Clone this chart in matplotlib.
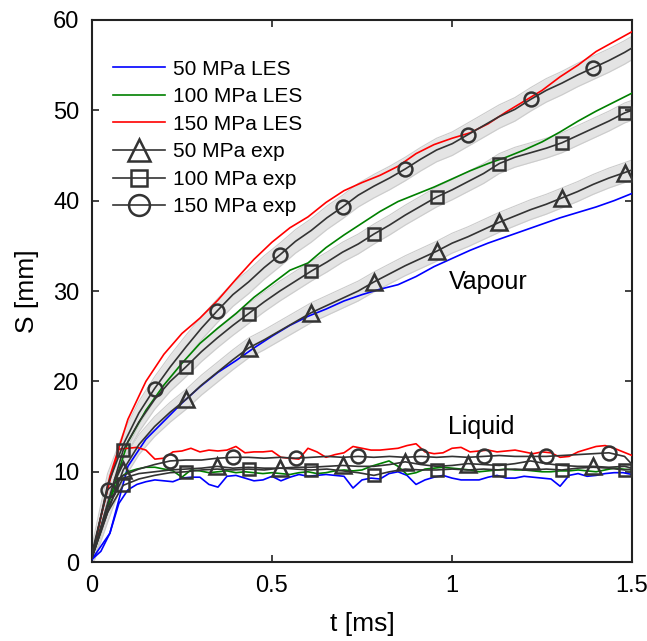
import numpy as np
import matplotlib
matplotlib.use("Agg")
import matplotlib.pyplot as plt

plt.rcParams["font.family"] = ["Liberation Sans", "DejaVu Sans"]

# LES time grid (ms)
t_les = np.arange(0, 61) * 0.025
# vapour penetration, LES, sampled every 0.05 ms
t_les_v = np.arange(0, 31) * 0.05

vap_les_50 = [0.3, 3.2, 10.6, 13.6, 15.6, 17.6, 19.4, 21.0, 22.3, 23.7, 25.0, 26.2, 27.2, 28.0,
              28.9, 29.6, 30.2, 30.7, 31.6, 32.7, 33.6, 34.5, 35.3, 36.0, 36.7, 37.4, 38.1,
              38.7, 39.3, 40.0, 40.8]
vap_les_100 = [0.5, 7.0, 13.3, 16.8, 19.6, 22.0, 24.2, 25.9, 27.5, 29.3, 30.8, 32.3, 33.1, 34.8,
               36.2, 37.5, 38.8, 39.9, 40.7, 41.5, 42.4, 43.3, 44.1, 44.8, 45.6, 46.5, 47.6,
               48.8, 49.9, 50.9, 51.9]
vap_les_150 = [0.5, 9.5, 15.8, 20.0, 23.0, 25.3, 27.0, 29.0, 31.3, 33.5, 35.4, 37.0, 38.2, 39.8,
               41.1, 42.0, 42.8, 43.8, 45.2, 46.2, 46.9, 47.5, 48.5, 49.8, 51.0, 52.2, 53.7,
               55.0, 56.5, 57.6, 58.7]

liq_les_50 = [0.3, 1.2, 3.2, 6.5, 8.0, 8.6, 8.9, 9.1, 9.0, 8.9, 9.3, 9.4, 9.4, 8.6, 8.3, 9.5,
              9.6, 9.3, 9.0, 9.1, 9.5, 9.0, 9.4, 9.7, 9.5, 9.6, 9.7, 9.6, 9.5, 8.2, 9.1, 9.3,
              9.2, 9.8, 10.0, 9.6, 8.6, 9.1, 9.4, 9.6, 9.3, 9.1, 9.1, 9.1, 9.4, 9.6, 9.3, 9.3,
              9.5, 9.4, 9.3, 9.2, 8.4, 9.6, 9.8, 9.5, 9.6, 9.8, 9.9, 9.9, 9.7]
liq_les_100 = [0.5, 3.5, 7.0, 9.2, 10.0, 10.3, 10.5, 10.5, 10.3, 10.1, 9.4, 10.2, 10.1, 9.9,
               10.0, 10.1, 9.9, 10.0, 9.9, 9.8, 9.9, 9.8, 9.7, 9.9, 10.0, 9.8, 9.9, 10.1,
               10.2, 10.1, 10.2, 10.6, 10.9, 11.2, 10.6, 9.7, 9.9, 10.3, 10.4, 10.5, 10.4,
               10.3, 10.2, 10.0, 10.1, 10.2, 10.3, 10.2, 10.2, 10.1, 10.0, 10.0, 10.1, 10.1,
               10.2, 10.1, 10.0, 10.2, 10.4, 10.3, 10.2]
liq_les_150 = [0.5, 5.0, 9.0, 12.5, 12.6, 12.7, 12.4, 11.4, 11.5, 12.2, 12.3, 12.6, 12.2, 12.4,
               12.3, 12.4, 12.8, 12.1, 12.2, 12.2, 12.3, 11.6, 11.5, 11.4, 12.6, 12.2, 11.6,
               11.9, 12.1, 12.8, 12.6, 12.4, 12.4, 12.5, 12.6, 12.9, 13.1, 12.2, 12.0, 12.1,
               12.6, 12.7, 12.2, 12.3, 12.4, 12.2, 12.3, 12.4, 12.2, 12.0, 12.2, 12.1, 11.6,
               11.7, 12.2, 12.5, 12.8, 12.9, 12.6, 12.2, 11.8]

# experimental time grid (ms)
t_exp = np.append(np.arange(0, 35) * 0.0435, 1.5)

vap_exp_50 = [0.5, 5.5, 10.2, 13.0, 15.0, 16.6, 18.0, 19.6, 21.0, 22.4, 23.7, 24.6, 25.6, 26.6,
              27.6, 28.4, 29.2, 30.0, 31.0, 31.9, 32.8, 33.6, 34.4, 35.3, 36.0, 36.8, 37.6,
              38.3, 39.0, 39.6, 40.3, 41.0, 41.8, 42.5, 43.1, 43.4]
vap_exp_100 = [0.5, 6.5, 12.4, 15.5, 18.0, 20.0, 21.6, 23.3, 24.8, 26.2, 27.5, 28.8, 30.0, 31.1,
               32.2, 33.2, 34.3, 35.2, 36.3, 37.3, 38.4, 39.4, 40.4, 41.2, 42.1, 43.0, 44.1,
               44.8, 45.3, 45.8, 46.4, 47.2, 48.0, 48.8, 49.7, 50.0]
vap_exp_150 = [0.5, 8.5, 13.0, 16.5, 19.2, 21.6, 23.8, 25.9, 27.8, 29.6, 31.0, 32.6, 34.0, 35.5,
               36.7, 38.1, 39.3, 40.6, 41.6, 42.5, 43.5, 44.6, 45.6, 46.3, 47.3, 48.3, 49.3,
               50.1, 51.2, 52.2, 53.0, 53.9, 54.7, 55.5, 56.4, 56.9]
vap_exp_spread = {50: 1.1, 100: 1.1, 150: 1.3}

liq_exp_50 = [0.5, 6.0, 9.3, 9.8, 10.0, 10.2, 10.3, 10.4, 10.6, 10.4, 10.5, 10.4, 10.4, 10.5,
              10.5, 10.6, 10.7, 10.6, 10.6, 10.8, 11.1, 10.8, 10.6, 10.7, 10.9, 10.8, 10.7,
              10.9, 11.2, 10.9, 10.7, 10.6, 10.6, 10.5, 10.6, 10.4]
liq_exp_100 = [0.5, 5.5, 8.5, 9.2, 9.6, 9.9, 10.0, 10.2, 10.3, 10.2, 10.3, 10.2, 10.4, 10.3,
               10.2, 10.3, 10.1, 9.9, 9.6, 10.0, 10.3, 10.2, 10.2, 10.3, 10.2, 10.3, 10.2,
               10.3, 10.2, 10.3, 10.2, 10.4, 10.5, 10.4, 10.2, 10.3]
liq_exp_150 = [1.0, 8.0, 9.6, 10.3, 10.8, 11.2, 11.3, 11.3, 11.5, 11.6, 11.6, 11.5, 11.6, 11.5,
               11.6, 11.7, 11.6, 11.7, 11.6, 11.7, 11.6, 11.7, 11.6, 11.7, 11.6, 11.7, 11.8,
               11.7, 11.7, 11.7, 11.8, 11.9, 12.0, 12.1, 11.7, 10.8]

les_colors = {50: "#0000ff", 100: "#008000", 150: "#ff0000"}
exp_markers = {50: "^", 100: "s", 150: "o"}
exp_col = "#333333"

fig = plt.figure(figsize=(6.47, 6.41), dpi=100)
ax = fig.add_axes([0.142, 0.123, 0.835, 0.846])

# uncertainty bands of the experimental vapour
for p, s in zip([50, 100, 150], [vap_exp_50, vap_exp_100, vap_exp_150]):
    s = np.array(s)
    d = vap_exp_spread[p]
    ax.fill_between(t_exp, s - d, s + d, color="#e4e4e4", lw=0, zorder=1)
    ax.plot(t_exp, s - d, color="#cccccc", lw=0.8, zorder=1)
    ax.plot(t_exp, s + d, color="#cccccc", lw=0.8, zorder=1)

# LES lines
les_v = {50: vap_les_50, 100: vap_les_100, 150: vap_les_150}
les_l = {50: liq_les_50, 100: liq_les_100, 150: liq_les_150}
for p in [50, 100, 150]:
    ax.plot(t_les_v, les_v[p], color=les_colors[p], lw=1.2, zorder=3,
            label="{} MPa LES".format(p))
    ax.plot(t_les, les_l[p], color=les_colors[p], lw=1.2, zorder=3)

# experiments
exp_v = {50: vap_exp_50, 100: vap_exp_100, 150: vap_exp_150}
exp_l = {50: liq_exp_50, 100: liq_exp_100, 150: liq_exp_150}
mark_v = {50: (2, 4), 100: (2, 4), 150: (4, 4)}
mark_l = {50: (8, 4), 100: (2, 4), 150: (1, 4)}
msize = {50: 11, 100: 8.5, 150: 10}
for p in [50, 100, 150]:
    ax.plot(t_exp, exp_v[p], color=exp_col, lw=1.2, marker=exp_markers[p], ms=msize[p],
            mfc="none", mew=1.8, markevery=mark_v[p], zorder=4,
            label="{} MPa exp".format(p))
    ax.plot(t_exp, exp_l[p], color=exp_col, lw=1.2, marker=exp_markers[p], ms=msize[p],
            mfc="none", mew=1.8, markevery=mark_l[p], zorder=4)

ax.text(1.1, 31, "Vapour", fontsize=18, ha="center", va="center")
ax.text(1.08, 14.9, "Liquid", fontsize=18, ha="center", va="center")

ax.set_xlim(0, 1.5)
ax.set_ylim(0, 60)
ax.set_xticks([0, 0.5, 1, 1.5])
ax.set_xticklabels(["0", "0.5", "1", "1.5"])
ax.set_yticks(range(0, 61, 10))
ax.tick_params(direction="in", top=True, right=True, length=5, width=1.2,
               labelsize=17, pad=9, colors="#222222", labelcolor="black")
for sp in ax.spines.values():
    sp.set_linewidth(1.5)
    sp.set_color("#222222")
ax.set_xlabel("t [ms]", fontsize=19, labelpad=11)
ax.set_ylabel("S [mm]", fontsize=19, labelpad=10)

leg = ax.legend(loc="upper left", frameon=False, fontsize=15, handlelength=2.5,
                handletextpad=0.4, labelspacing=0.41, bbox_to_anchor=(0.0, 0.965),
                borderaxespad=0.6)
for h, p in zip(leg.legend_handles[3:], [50, 100, 150]):
    h.set_markersize({50: 16, 100: 11, 150: 15}[p])

fig.savefig("out.png", dpi=100)
